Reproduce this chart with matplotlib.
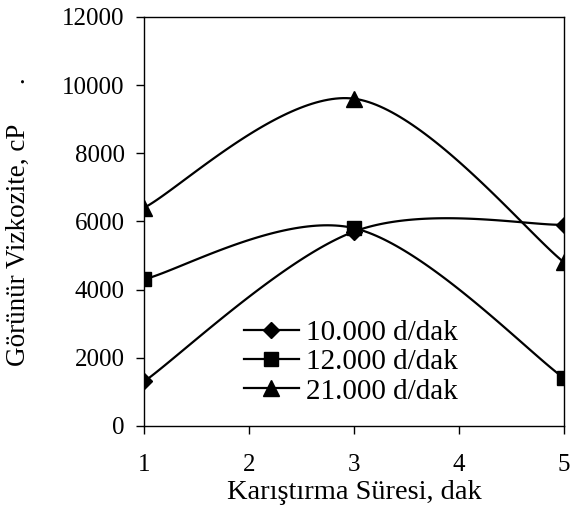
import numpy as np
import matplotlib
matplotlib.use("Agg")
import matplotlib.pyplot as plt

plt.rcParams['font.family'] = ['Liberation Serif', 'DejaVu Serif']

# karistirma suresi (dak) ve gorunur vizkozite (cP)
sure = [1, 3, 5]
visk_10000 = [1300, 5700, 5900]
visk_12000 = [4300, 5800, 1400]
visk_21000 = [6400, 9600, 4800]
etiketler = ['10.000 d/dak', '12.000 d/dak', '21.000 d/dak']
isaretler = ['D', 's', '^']
boyutlar = [7.8, 9.4, 11]


def excel_smooth(x, y, n=60):
    # Excel'in "duzgun cizgi" secenegine benzer bezier egrisi
    p = np.column_stack([x, y]).astype(float)
    p = np.vstack([p[0], p, p[-1]])
    xs, ys = [], []
    t = np.linspace(0, 1, n)[:, None]
    for i in range(1, len(p) - 2):
        p0, p1, p2, p3 = p[i - 1], p[i], p[i + 1], p[i + 2]
        c1 = p1 + (p2 - p0) / 6
        c2 = p2 - (p3 - p1) / 6
        b = ((1 - t) ** 3 * p1 + 3 * (1 - t) ** 2 * t * c1
             + 3 * (1 - t) * t ** 2 * c2 + t ** 3 * p2)
        xs.append(b[:, 0])
        ys.append(b[:, 1])
    return np.concatenate(xs), np.concatenate(ys)


fig = plt.figure(figsize=(5.79, 5.13), dpi=100)
ax = fig.add_axes([0.249, 0.170, 0.725, 0.797])

for veri, et, m, ms in zip([visk_10000, visk_12000, visk_21000], etiketler, isaretler, boyutlar):
    sx, sy = excel_smooth(sure, veri)
    ax.plot(sx, sy, color='black', lw=1.6, zorder=2)
    ax.plot(sure, veri, linestyle='none', marker=m, ms=ms, color='black', zorder=3)
    # legend icin
    ax.plot([], [], color='black', lw=1.6, marker=m, ms=ms, label=et)

ax.set_xlim(1, 5)
ax.set_ylim(0, 12000)
ax.set_xticks([1, 2, 3, 4, 5])
ax.set_yticks(range(0, 12001, 2000))
ax.tick_params(axis='both', direction='out', length=6, width=1,
               labelsize=18, colors='black')
ax.tick_params(axis='x', pad=14)
ax.tick_params(axis='y', pad=8)
for s in ax.spines.values():
    s.set_linewidth(1)

ax.set_xlabel('Karıştırma Süresi, dak', fontsize=20.5, labelpad=3)
ax.set_ylabel('Görünür Vizkozite, cP      .', fontsize=19.5)
ax.yaxis.set_label_coords(-0.269, 0.5)

ax.legend(loc='upper left', bbox_to_anchor=(0.421, 0.377),
          bbox_transform=fig.transFigure, frameon=False, fontsize=21,
          handlelength=1.89, handletextpad=0.24, labelspacing=0.1,
          borderpad=0, borderaxespad=0)

fig.savefig('out.png', dpi=100)
